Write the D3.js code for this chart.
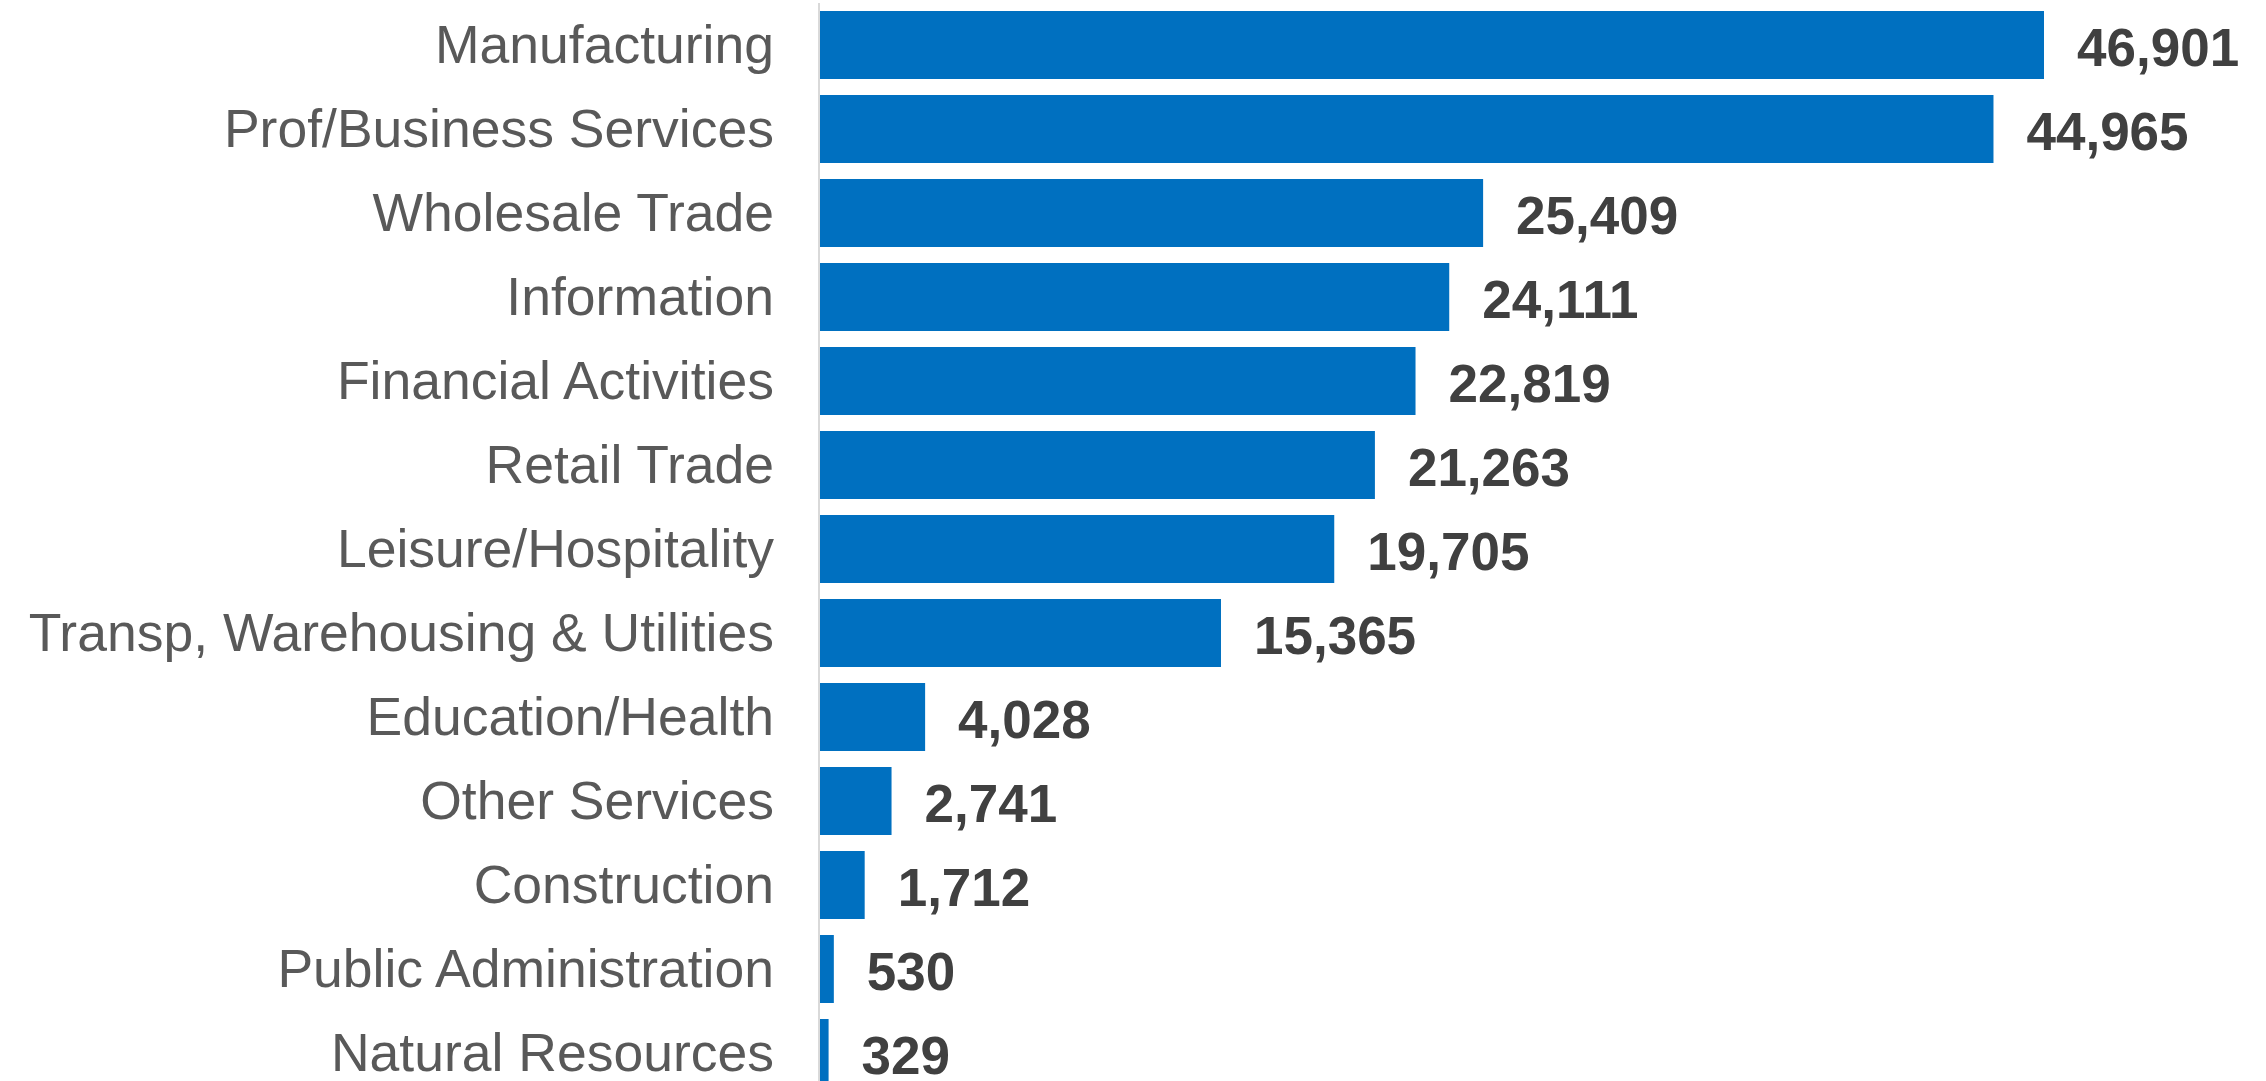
<!DOCTYPE html>
<html>
<head>
<meta charset="utf-8">
<script src="https://cdn.jsdelivr.net/npm/d3@7"></script>
<style>
  html, body { margin: 0; padding: 0; background: #ffffff; overflow: hidden; }
  svg { display: block; }
</style>
</head>
<body>
<svg id="chart" width="2266" height="1081"></svg>
<script>
// Industry categories, top to bottom
const categories = [
  "Manufacturing",
  "Prof/Business Services",
  "Wholesale Trade",
  "Information",
  "Financial Activities",
  "Retail Trade",
  "Leisure/Hospitality",
  "Transp, Warehousing & Utilities",
  "Education/Health",
  "Other Services",
  "Construction",
  "Public Administration",
  "Natural Resources"
];

// Value per industry
const values = [46901, 44965, 25409, 24111, 22819, 21263, 19705, 15365, 4028, 2741, 1712, 530, 329];

const data = categories.map((c, i) => ({ category: c, value: values[i] }));

const svg = d3.select("#chart");

const x = d3.scaleLinear()
  .domain([0, d3.max(values)])
  .range([820, 2044]);

const y = d3.scaleBand()
  .domain(categories)
  .range([3, 1095])
  .paddingInner(16 / 84)
  .paddingOuter(8 / 84);

const fmt = d3.format(",");

// Bars
svg.append("g")
  .selectAll("rect")
  .data(data)
  .join("rect")
  .attr("x", x(0))
  .attr("y", d => y(d.category))
  .attr("width", d => x(d.value) - x(0))
  .attr("height", y.bandwidth())
  .attr("fill", "#0070C0");

// Category axis
const axis = svg.append("g")
  .attr("transform", `translate(${x(0) - 1},0)`)
  .call(d3.axisLeft(y).tickSize(0).tickPadding(45));

axis.select(".domain")
  .attr("stroke", "#d9d9d9")
  .attr("stroke-width", 2)
  .attr("d", `M0,${y.range()[0]}V${y.range()[1]}`);

axis.selectAll(".tick text")
  .attr("font-family", "Liberation Sans, Arial, sans-serif")
  .attr("font-size", 53.5)
  .attr("fill", "#595959")
  .attr("dy", "0.345em");

// Value labels
svg.append("g")
  .selectAll("text")
  .data(data)
  .join("text")
  .attr("x", d => x(d.value) + 33)
  .attr("y", d => y(d.category) + y.bandwidth() / 2)
  .attr("dy", "0.39em")
  .attr("font-family", "Liberation Sans, Arial, sans-serif")
  .attr("font-weight", "bold")
  .attr("font-size", 53)
  .attr("fill", "#404040")
  .text(d => fmt(d.value));
</script>
</body>
</html>
